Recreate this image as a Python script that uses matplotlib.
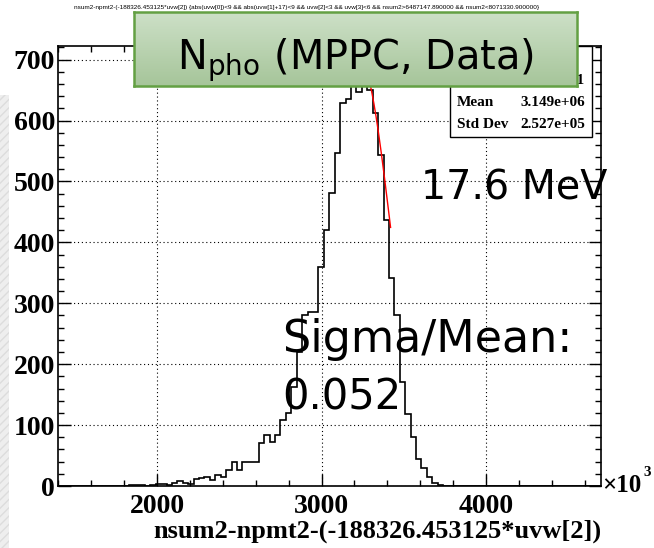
import numpy as np
import matplotlib
matplotlib.use('Agg')
import matplotlib.pyplot as plt
from matplotlib.patches import Rectangle
from matplotlib.ticker import MultipleLocator

# histogram of nsum2-npmt2-(-188326.453125*uvw[2]), in units of 1e3
x_min, x_max, n_bins = 1397, 4697, 100
counts = [
    0, 0, 0, 0, 0, 0, 0, 0, 0, 0,
    0, 0, 0, 1, 1, 1, 0, 2, 3, 3,
    1, 5, 9, 5, 3, 11, 13, 15, 10, 18,
    14, 27, 40, 26, 40, 40, 40, 70, 84, 73,
    84, 108, 120, 163, 220, 281, 285, 285, 360, 421,
    481, 547, 628, 635, 675, 647, 688, 650, 613, 543,
    437, 341, 281, 171, 119, 81, 45, 29, 15, 5,
    2, 0, 0, 0, 0, 0, 0, 0, 0, 0,
    0, 0, 0, 0, 0, 0, 0, 0, 0, 0,
    0, 0, 0, 0, 0, 0, 0, 0, 0, 0,
]

# gaussian fit drawn over the upper part of the peak
fit_amp, fit_mean, fit_sigma = 700, 3230, 190
fit_lo, fit_hi = 3165, 3420

stat_entries = '24261'
stat_mean = '3.149e+06'
stat_std = '2.527e+05'

title = ('nsum2-npmt2-(-188326.453125*uvw[2]) {abs(uvw[0])<9 && abs(uvw[1]+17)<9 && uvw[2]<3 '
         '&& uvw[3]<6 && nsum2>6487147.890000 && nsum2<8071330.900000}')
xlabel = 'nsum2-npmt2-(-188326.453125*uvw[2])'

W, H = 654, 548
def fx(px):
    return px / W
def fy(py):
    return 1 - py / H

serif = 'Liberation Serif'

fig = plt.figure(figsize=(W / 100, H / 100), dpi=100)
fig.patch.set_facecolor('white')

# light hatched strip at the left edge
strip = Rectangle((0, 0), fx(9), fy(95), transform=fig.transFigure,
                  facecolor='#eeeeee', edgecolor='#dcdcdc', hatch='////', lw=0)
fig.patches.append(strip)

ax = fig.add_axes([fx(58), fy(486), fx(600.5) - fx(58), fy(46) - fy(486)])
edges = np.linspace(x_min, x_max, n_bins + 1)
ax.stairs(counts, edges, color='black', lw=1.2, zorder=3)

xf = np.linspace(fit_lo, fit_hi, 200)
ax.plot(xf, fit_amp * np.exp(-0.5 * ((xf - fit_mean) / fit_sigma) ** 2),
        color='red', lw=1.0, zorder=4)

ax.set_xlim(x_min, x_max)
ax.set_ylim(0, 1.05 * max(counts))

ax.xaxis.set_major_locator(MultipleLocator(1000))
ax.xaxis.set_minor_locator(MultipleLocator(200))
ax.yaxis.set_major_locator(MultipleLocator(100))
ax.yaxis.set_minor_locator(MultipleLocator(20))
ax.tick_params(which='both', direction='in', top=True, right=True, color='black', width=1.0)
ax.tick_params(which='major', length=9)
ax.tick_params(which='minor', length=4.5)
ax.tick_params(axis='x', which='major', pad=6)
ax.tick_params(axis='y', which='major', pad=2)
for lab in ax.get_xticklabels() + ax.get_yticklabels():
    lab.set_fontfamily(serif)
    lab.set_fontweight('bold')
    lab.set_fontsize(20)
ax.grid(True, which='major', color='black', ls=(0, (1, 2.5)), lw=0.8)
for sp in ax.spines.values():
    sp.set_linewidth(1.2)

fig.text(fx(602), fy(486), '\u00d710', family=serif, weight='bold', fontsize=18,
         ha='left', va='center')
fig.text(fx(643), fy(473), '3', family=serif, weight='bold', fontsize=11,
         ha='left', va='center')
fig.text(fx(601), fy(531), xlabel, family=serif, weight='bold', fontsize=19,
         ha='right', va='center')
fig.text(fx(307), fy(7), title, family='Liberation Sans', fontsize=4.6,
         ha='center', va='center')

# statistics box (its upper rows sit under the title box)
sbox = Rectangle((fx(450), fy(137)), fx(592) - fx(450), fy(46) - fy(137),
                 transform=fig.transFigure, facecolor='white', edgecolor='black',
                 lw=1.0, zorder=5)
fig.patches.append(sbox)
fig.text(fx(585), fy(80), stat_entries, family=serif, weight='bold', fontsize=11,
         ha='right', va='center', zorder=6)
for name, val, py in [('Mean', stat_mean, 103), ('Std Dev', stat_std, 125)]:
    fig.text(fx(457), fy(py), name, family=serif, weight='bold', fontsize=11,
             ha='left', va='center', zorder=6)
    fig.text(fx(585), fy(py), val, family=serif, weight='bold', fontsize=11,
             ha='right', va='center', zorder=6)

# annotation texts
fig.text(fx(421), fy(200), '17.6 MeV', family='DejaVu Sans', fontsize=28.5,
         ha='left', va='baseline')
fig.text(fx(282), fy(352), 'Sigma/Mean:', family='DejaVu Sans', fontsize=32,
         ha='left', va='baseline')
fig.text(fx(282), fy(410), '0.052', family='DejaVu Sans', fontsize=30,
         ha='left', va='baseline')

# green title box
gax = fig.add_axes([fx(134), fy(86), fx(577) - fx(134), fy(12) - fy(86)])
gax.set_zorder(10)
top = np.array([205, 224, 199]) / 255
bot = np.array([166, 197, 154]) / 255
grad = np.linspace(0, 1, 64)[:, None, None]
img = top * (1 - grad) + bot * grad
gax.imshow(img, aspect='auto', extent=(0, 1, 0, 1))
gax.set_xlim(0, 1)
gax.set_ylim(0, 1)
gax.set_xticks([])
gax.set_yticks([])
for sp in gax.spines.values():
    sp.set_color('#63a043')
    sp.set_linewidth(1.8)
gax.text(0.5, (86 - 69) / 74, r'N$_{\mathrm{pho}}$ (MPPC, Data)', family='DejaVu Sans',
         fontsize=28.7, ha='center', va='baseline', transform=gax.transAxes)

fig.savefig('out.png', dpi=100)
